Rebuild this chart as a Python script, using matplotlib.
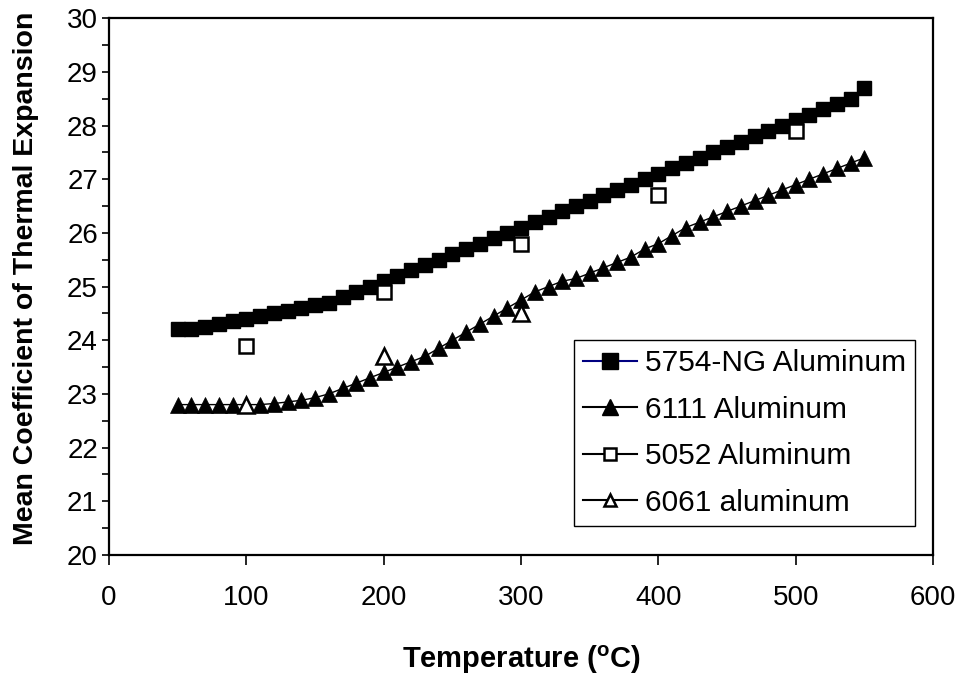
import matplotlib
matplotlib.use("Agg")
import matplotlib.pyplot as plt
from matplotlib.lines import Line2D
from matplotlib.ticker import MultipleLocator

plt.rcParams['font.family'] = ['Liberation Sans', 'DejaVu Sans']
plt.rcParams['mathtext.fontset'] = 'custom'
plt.rcParams['mathtext.rm'] = 'Liberation Sans'
plt.rcParams['mathtext.bf'] = 'Liberation Sans:bold'

# Datos
temp = list(range(50, 551, 10))
cte_5754 = [24.2, 24.2, 24.25, 24.3, 24.35, 24.4, 24.45, 24.5, 24.55, 24.6,
            24.65, 24.7, 24.8, 24.9, 25.0, 25.1, 25.2, 25.3, 25.4, 25.5,
            25.6, 25.7, 25.8, 25.9, 26.0, 26.1, 26.2, 26.3, 26.4, 26.5,
            26.6, 26.7, 26.8, 26.9, 27.0, 27.1, 27.2, 27.3, 27.4, 27.5,
            27.6, 27.7, 27.8, 27.9, 28.0, 28.1, 28.2, 28.3, 28.4, 28.5,
            28.7]
cte_6111 = [22.8, 22.8, 22.8, 22.8, 22.8, 22.8, 22.8, 22.82, 22.85, 22.88,
            22.93, 23.0, 23.1, 23.2, 23.3, 23.4, 23.5, 23.6, 23.7, 23.85,
            24.0, 24.15, 24.3, 24.45, 24.6, 24.75, 24.9, 25.0, 25.1, 25.15,
            25.25, 25.35, 25.45, 25.55, 25.7, 25.8, 25.95, 26.1, 26.2, 26.3,
            26.4, 26.5, 26.6, 26.7, 26.8, 26.9, 27.0, 27.1, 27.2, 27.3,
            27.4]
temp_5052 = [100, 200, 300, 400, 500]
cte_5052 = [23.9, 24.9, 25.8, 26.7, 27.9]
temp_6061 = [100, 200, 300]
cte_6061 = [22.8, 23.7, 24.5]

labels = ['5754-NG Aluminum', '6111 Aluminum', '5052 Aluminum', '6061 aluminum']

fig = plt.figure(figsize=(9.57, 6.75), dpi=100)
ax = fig.add_axes([0.114, 0.178, 0.861, 0.795])

ax.plot(temp, cte_5754, color='#000080', lw=1, marker='s', ms=10,
        mfc='black', mec='black', zorder=3)
ax.plot(temp, cte_6111, color='black', lw=1, marker='^', ms=11,
        mfc='black', mec='black', mew=0.5, zorder=3)
ax.plot(temp_5052, cte_5052, ls='none', marker='s', ms=10,
        mfc='white', mec='black', mew=1.8, zorder=4)
ax.plot(temp_6061, cte_6061, ls='none', marker='^', ms=11,
        mfc='white', mec='black', mew=1.8, zorder=4)

ax.set_xlim(0, 600)
ax.set_ylim(20, 30)
ax.xaxis.set_major_locator(MultipleLocator(100))
ax.yaxis.set_major_locator(MultipleLocator(1))
ax.yaxis.set_minor_locator(MultipleLocator(0.5))
ax.tick_params(axis='both', labelsize=20, width=1.2, direction='out')
ax.tick_params(axis='x', length=7, pad=15)
ax.tick_params(axis='y', which='major', length=5, pad=3)
ax.tick_params(axis='y', which='minor', length=5, width=1.2)
for s in ax.spines.values():
    s.set_linewidth(1.6)

ax.set_xlabel(r'Temperature ($^{\mathbf{o}}$C)', fontsize=21,
              fontweight='bold')
ax.set_ylabel('Mean Coefficient of Thermal Expansion', fontsize=20.5,
              fontweight='bold')
ax.xaxis.set_label_coords(0.5, -0.165)
ax.yaxis.set_label_coords(-0.085, 0.515)

handles = [
    Line2D([], [], color='#000080', lw=1.5, marker='s', ms=12,
           mfc='black', mec='black'),
    Line2D([], [], color='black', lw=1.5, marker='^', ms=12,
           mfc='black', mec='black'),
    Line2D([], [], color='black', lw=1.5, marker='s', ms=8,
           mfc='white', mec='black', mew=1.8),
    Line2D([], [], color='black', lw=1.5, marker='^', ms=9,
           mfc='white', mec='black', mew=1.8),
]
leg = ax.legend(handles, labels, loc='upper left',
                bbox_to_anchor=(0.600, 0.496), bbox_transform=fig.transFigure,
                fontsize=21.5, frameon=True, fancybox=False, framealpha=1,
                edgecolor='black', handlelength=1.8, handletextpad=0.27,
                labelspacing=0.62, borderpad=0.3, borderaxespad=0)
leg.get_frame().set_linewidth(1.0)

fig.savefig('out.png', dpi=100)
